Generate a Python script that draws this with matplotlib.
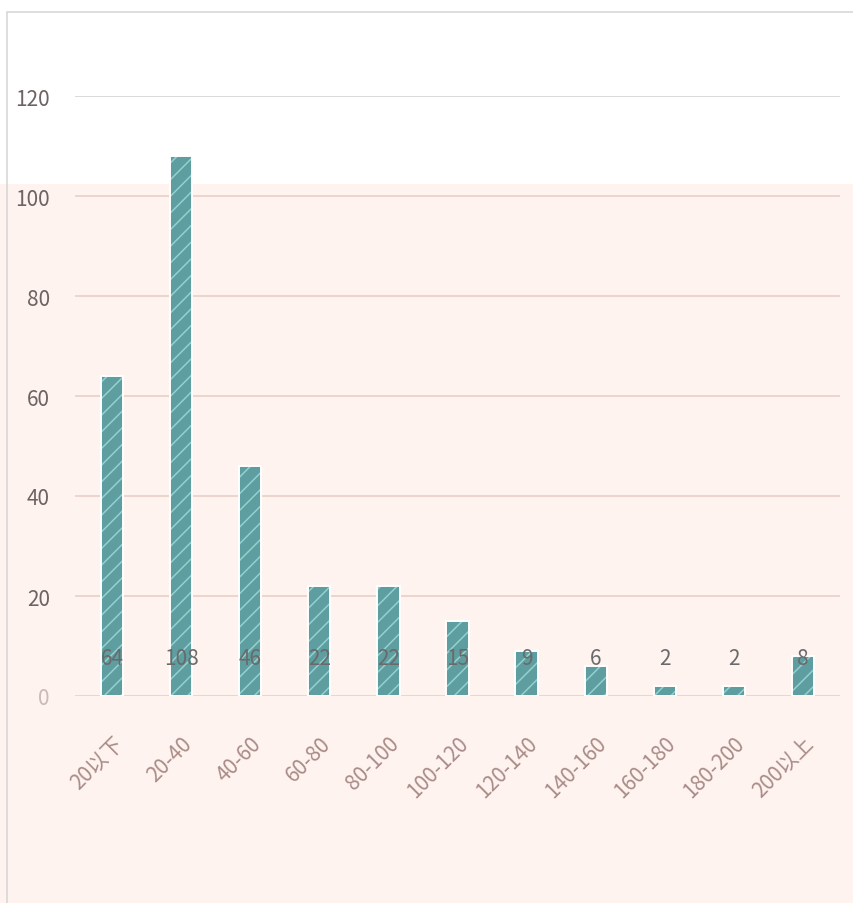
import matplotlib

matplotlib.use("Agg")
import matplotlib.pyplot as plt
from matplotlib.patches import Rectangle

plt.rcParams["font.family"] = ["Noto Sans CJK SC", "DejaVu Sans"]
plt.rcParams["hatch.linewidth"] = 1.1

CATEGORIES = ["20以下", "20-40", "40-60", "60-80", "80-100", "100-120",
              "120-140", "140-160", "160-180", "180-200", "200以上"]
COUNTS = [64, 108, 46, 22, 22, 15, 9, 6, 2, 2, 8]
Y_TICKS = [0, 20, 40, 60, 80, 100, 120]

BG_PINK = "#fff3ef"
BAR_TEAL = "#5f9ea0"
HATCH_CYAN = "#94d0d0"


def main():
    fig = plt.figure(figsize=(8.54, 9.04), dpi=100, facecolor=BG_PINK)
    # white band at the top of the picture and thin chart border
    fig.patches.append(Rectangle((0, 1 - 185 / 904), 1, 185 / 904, transform=fig.transFigure,
                                 facecolor="white", edgecolor="none", zorder=-10))
    fig.patches.append(Rectangle((7 / 854, -0.01), 1.0, 1 - 13 / 904 + 0.01, transform=fig.transFigure,
                                 facecolor="none", edgecolor="#d8d8d8", linewidth=1.2, zorder=-9))

    ax = fig.add_axes([75 / 854, 1 - 697 / 904, 765 / 854, 600 / 904])
    ax.set_zorder(2)
    ax.set_facecolor("none")
    x = range(len(CATEGORIES))

    ax.bar(x, COUNTS, width=0.32, color=BAR_TEAL, edgecolor=HATCH_CYAN, hatch="//",
           linewidth=0, zorder=3)
    ax.bar(x, COUNTS, width=0.32, fill=False, edgecolor="white", linewidth=1.4, zorder=4)

    for xi, v in zip(x, COUNTS):
        ax.text(xi, 7.5, str(v), ha="center", va="center", fontsize=15, color="#6a6a6a", zorder=5)

    ax.set_xlim(-0.54, len(CATEGORIES) - 0.46)
    ax.set_ylim(0, 120)
    ax.set_yticks(Y_TICKS)
    ax.set_yticklabels([str(t) for t in Y_TICKS], fontsize=15, color="#6f6262")
    ax.get_yticklabels()[0].set_color("#cbbab6")
    ax.set_xticks(list(x))
    ax.set_xticklabels(CATEGORIES, rotation=45, ha="right", va="top", rotation_mode="anchor",
                       fontsize=15, color="#a98c88")
    ax.tick_params(axis="both", length=0)
    ax.tick_params(axis="x", pad=26)
    ax.tick_params(axis="y", pad=18)

    ax.yaxis.grid(True, color="#e9cfc8", linewidth=1.2, zorder=0)
    ax.yaxis.get_gridlines()[-1].set_color("#d4d4d4")
    ax.set_axisbelow(True)
    for side in ["top", "right", "left", "bottom"]:
        ax.spines[side].set_visible(False)

    fig.savefig("out.png", dpi=100, facecolor=fig.get_facecolor())
    plt.close(fig)


if __name__ == "__main__":
    main()
